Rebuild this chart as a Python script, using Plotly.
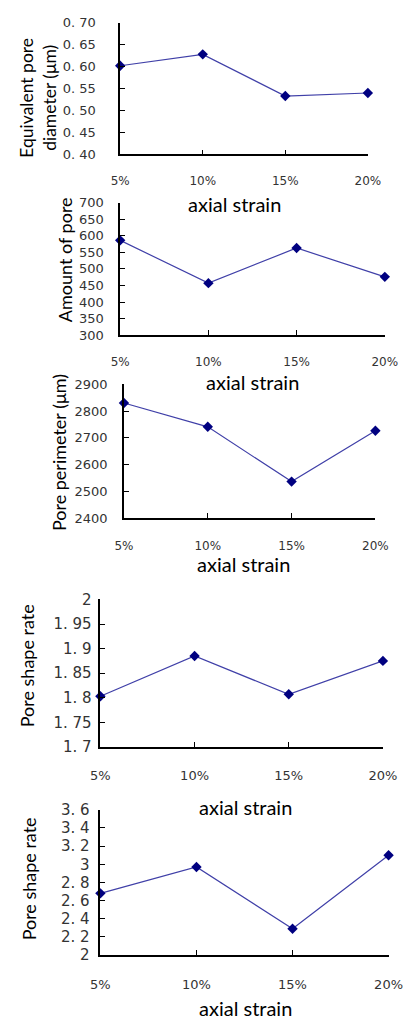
import plotly.graph_objects as go

W, H = 412, 1030

categories = ["5%", "10%", "15%", "20%"]

diameter = [0.602, 0.628, 0.533, 0.540]
amount = [586, 457, 563, 476]
perimeter = [2830, 2741, 2536, 2726]
shape_rate_a = [1.803, 1.885, 1.807, 1.875]
shape_rate_b = [2.68, 2.97, 2.29, 3.10]

p1_ticks = [0.40, 0.45, 0.50, 0.55, 0.60, 0.65, 0.70]
p1_text = ["0. 40", "0. 45", "0. 50", "0. 55", "0. 60", "0. 65", "0. 70"]
p2_ticks = [300, 350, 400, 450, 500, 550, 600, 650, 700]
p2_text = ["300", "350", "400", "450", "500", "550", "600", "650", "700"]
p3_ticks = [2400, 2500, 2600, 2700, 2800, 2900]
p3_text = ["2400", "2500", "2600", "2700", "2800", "2900"]
p4_ticks = [1.70, 1.75, 1.80, 1.85, 1.90, 1.95, 2.00]
p4_text = ["1. 7", "1. 75", "1. 8", "1. 85", "1. 9", "1. 95", "2"]
p5_ticks = [2.0, 2.2, 2.4, 2.6, 2.8, 3.0, 3.2, 3.4, 3.6]
p5_text = ["2", "2. 2", "2. 4", "2. 6", "2. 8", "3", "3. 2", "3. 4", "3. 6"]

y_titles = ["Equivalent pore<br>diameter (\u03bcm)", "Amount of pore",
            "Pore perimeter (\u03bcm)", "Pore shape rate", "Pore shape rate"]
x_title = "axial strain"

series = [diameter, amount, perimeter, shape_rate_a, shape_rate_b]
ticks = [(p1_ticks, p1_text), (p2_ticks, p2_text), (p3_ticks, p3_text),
         (p4_ticks, p4_text), (p5_ticks, p5_text)]

# panel boxes in pixels: x0, x1, ytop, ybottom
boxes = [(117, 380, 14, 148), (117, 398, 197, 332), (121, 388, 382, 518),
         (96, 396, 601, 751), (96, 402, 815, 963)]
ystand = [20, 12, 12, 4, 6]
xstand = [14, 15, 16, 16, 16]
tickfs = [13, 13, 13, 15, 15]
xtickfs = [12, 12, 12, 13, 13]
ytitle_pos = [(30, 90, 17.5), (58, 255, 18), (52, 451, 18), (18, 668, 18), (20, 885, 18)]
xtitle_pos = [(238, 198), (257, 380), (248, 565), (250, 812), (250, 1017)]

fig = go.Figure()
annotations = []
for i in range(5):
    n = "" if i == 0 else str(i + 1)
    x0, x1, yt, yb = boxes[i]
    fig.add_trace(go.Scatter(
        x=categories, y=series[i], mode="lines+markers",
        line=dict(color="#4040a8", width=1.2),
        marker=dict(symbol="diamond", size=8, color="#000080"),
        cliponaxis=False, showlegend=False,
        xaxis="x" + n, yaxis="y" + n))
    tv, tt = ticks[i]
    fig.layout["xaxis" + n] = dict(
        domain=[x0 / W, x1 / W], anchor="y" + n, type="category",
        range=[0, 3], showgrid=False, zeroline=False,
        showline=True, linecolor="black", linewidth=1.5,
        ticks="inside", ticklen=5, tickcolor="black",
        ticklabelstandoff=xstand[i],
        tickfont=dict(family="DejaVu Sans", size=xtickfs[i], color="#333333"))
    fig.layout["yaxis" + n] = dict(
        domain=[1 - yb / H, 1 - yt / H], anchor="x" + n,
        range=[tv[0], tv[-1]], tickvals=tv, ticktext=tt,
        showgrid=False, zeroline=False,
        showline=True, linecolor="black", linewidth=1.5,
        ticks="inside", ticklen=5, tickcolor="black",
        ticklabelstandoff=ystand[i],
        tickfont=dict(family="DejaVu Sans", size=tickfs[i], color="#333333"))
    tx, ty, tfs = ytitle_pos[i]
    annotations.append(dict(
        text=y_titles[i], xref="paper", yref="paper", x=tx / W, y=1 - ty / H,
        xanchor="center", yanchor="middle", textangle=-90, showarrow=False,
        font=dict(family="Lato", size=tfs, color="black")))
    ax, ay = xtitle_pos[i]
    annotations.append(dict(
        text=x_title, xref="paper", yref="paper", x=ax / W, y=1 - ay / H,
        xanchor="center", yanchor="middle", showarrow=False,
        font=dict(family="Lato", size=20, color="black")))

fig.update_layout(
    width=W, height=H, margin=dict(l=0, r=0, t=0, b=0),
    paper_bgcolor="white", plot_bgcolor="white",
    annotations=annotations)

fig.write_html("out.html")
